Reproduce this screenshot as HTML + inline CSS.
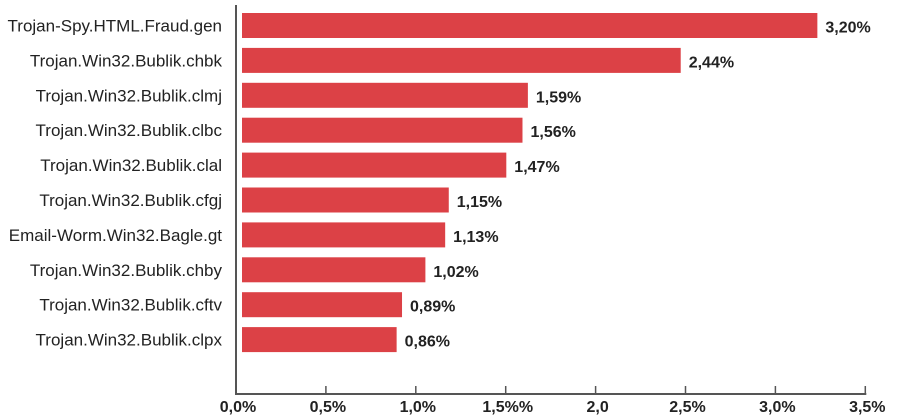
<!DOCTYPE html>
<html><head><meta charset="utf-8"><style>
html,body{margin:0;padding:0;background:#fff;}
svg{display:block;font-family:"Liberation Sans",sans-serif;}
</style></head><body>
<svg id="chart" width="920" height="415" viewBox="0 0 920 415" xmlns="http://www.w3.org/2000/svg"></svg>
<script>
const categories = ["Trojan-Spy.HTML.Fraud.gen","Trojan.Win32.Bublik.chbk","Trojan.Win32.Bublik.clmj","Trojan.Win32.Bublik.clbc","Trojan.Win32.Bublik.clal","Trojan.Win32.Bublik.cfgj","Email-Worm.Win32.Bagle.gt","Trojan.Win32.Bublik.chby","Trojan.Win32.Bublik.cftv","Trojan.Win32.Bublik.clpx"];
const values = [3.20,2.44,1.59,1.56,1.47,1.15,1.13,1.02,0.89,0.86];
const valueLabels = ["3,20%","2,44%","1,59%","1,56%","1,47%","1,15%","1,13%","1,02%","0,89%","0,86%"];
const tickValues = [0,0.5,1,1.5,2,2.5,3,3.5];
const tickLabels = ["0,0%","0,5%","1,0%","1,5%%","2,0","2,5%","3,0%","3,5%"];

const svg = document.getElementById('chart');
const NS = "http://www.w3.org/2000/svg";
const unit = 179.8;
const xBar = v => 242 + v*unit;
const xTick = v => 236 + v*unit;
const yRow = i => 13 + i*34.9;
const barH = 25;
function mk(tag, attrs){const e=document.createElementNS(NS,tag);for(const k in attrs)e.setAttribute(k,attrs[k]);svg.appendChild(e);return e;}

categories.forEach((c,i)=>{
  const r = mk('rect',{x:xBar(0),y:yRow(i),width:xBar(values[i])-xBar(0),height:barH,fill:'#dc4146'});
  
  
  const t = mk('text',{x:222,y:yRow(i)+barH/2+6,'text-anchor':'end','font-size':'17',fill:'#222',transform:''});
  t.textContent = c;
  
  
  const v = mk('text',{x:xBar(values[i])+8,y:yRow(i)+barH/2+7,'font-size':'16','font-weight':'bold',fill:'#222'});
  v.textContent = valueLabels[i];
  
  
});

const ya = mk('line',{x1:236,y1:5,x2:236,y2:394,stroke:'#555','stroke-width':2});


const xa = mk('line',{x1:235,y1:394,x2:xTick(3.5)+1,y2:394,stroke:'#555','stroke-width':2});


tickValues.forEach((tv,i)=>{
  const l = mk('line',{x1:xTick(tv),y1:386,x2:xTick(tv),y2:394,stroke:'#555','stroke-width':1.5});
  
  
  const t = mk('text',{x:xTick(tv)+2,y:412,'text-anchor':'middle','font-size':'16','font-weight':'bold',fill:'#222'});
  t.textContent = tickLabels[i];
  
  
});
</script>
</body></html>
